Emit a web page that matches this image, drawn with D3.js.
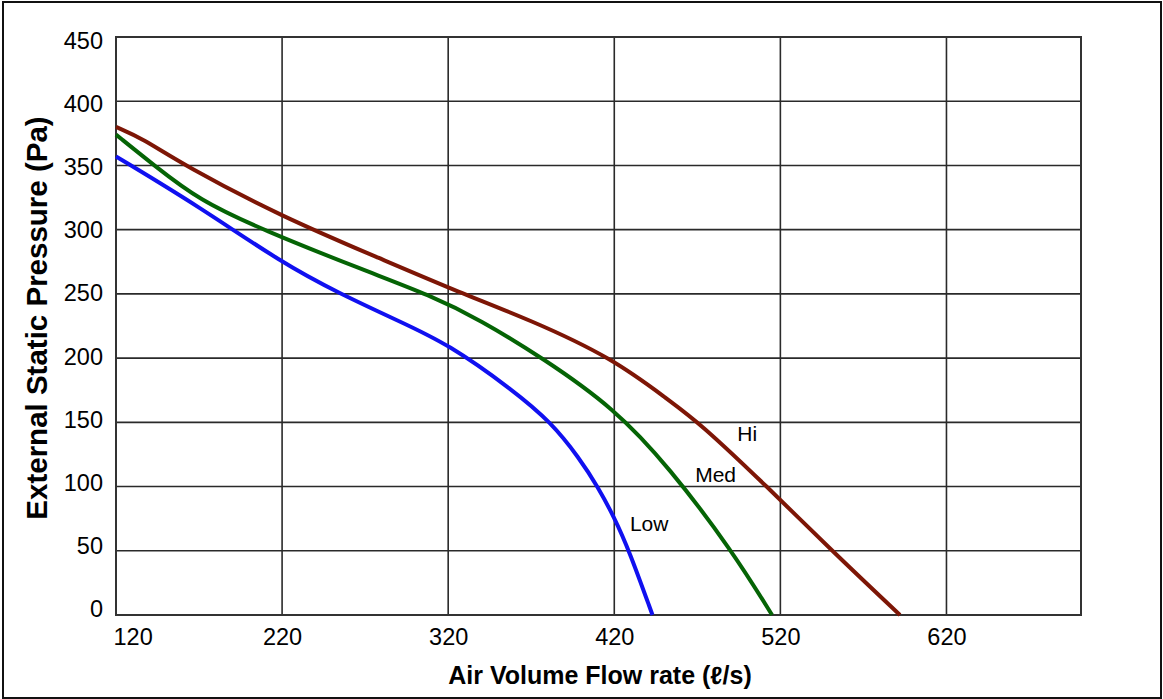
<!DOCTYPE html>
<html>
<head>
<meta charset="utf-8">
<script src="https://cdn.jsdelivr.net/npm/d3@7"></script>
<style>
  body { margin: 0; background: white; }
  svg { display: block; font-family: "Liberation Sans", Arial, sans-serif; }
</style>
</head>
<body>
<div id="grafico"></div>
<script>
// valores (caudal l/s, presion Pa)
var caudal_hi  = [120, 136, 161, 220, 280, 327, 369, 419, 453, 471, 512, 551, 592];
var presion_hi = [380, 371, 350, 310, 277, 251, 230, 200, 167, 150, 100, 50, 0];

var caudal_med  = [120, 143, 170, 208, 270, 309, 339, 377, 420, 453, 491, 515];
var presion_med = [374, 350, 323, 300, 268, 249, 230, 200, 161, 115, 50, 0];

var caudal_low  = [120, 170, 220, 255, 290, 320, 359, 382, 399, 410, 420, 429, 443];
var presion_low = [357, 318, 274, 250, 229, 211, 175, 150, 122, 100, 76, 50, 0];

var nombres = ["Hi", "Med", "Low"];
var etiqueta_x = [500, 481, 441];   // donde va el nombre de cada curva
var etiqueta_y = [140, 108, 70];

var ticks_x = [120, 220, 320, 420, 520, 620];
var ticks_y = [0, 50, 100, 150, 200, 250, 300, 350, 400, 450];

var W = 1163, H = 699;
var margin = {top: 37, right: 82, bottom: 84, left: 116};
var width = W - margin.left - margin.right;
var height = H - margin.top - margin.bottom;

var svg = d3.select("#grafico").append("svg")
  .attr("width", W)
  .attr("height", H);

// marco exterior
svg.append("rect")
  .attr("x", 3).attr("y", 2)
  .attr("width", W - 5).attr("height", H - 3)
  .attr("fill", "white")
  .attr("stroke", "#111")
  .attr("stroke-width", 2);

var g = svg.append("g")
  .attr("transform", "translate(" + margin.left + "," + margin.top + ")");

var x = d3.scaleLinear().domain([120, 701]).range([0, width]);
var y = d3.scaleLinear().domain([0, 450]).range([height, 0]);
// las etiquetas del eje Y no caen justo sobre la rejilla en el original
var yLab = d3.scaleLinear().domain([0, 450]).range([height - 6, 4]);

// rejilla
g.selectAll(".grid-v").data(ticks_x).enter().append("line")
  .attr("class", "grid-v")
  .attr("x1", d => x(d)).attr("x2", d => x(d))
  .attr("y1", 0).attr("y2", height)
  .attr("stroke", "#2a2a2a").attr("stroke-width", 1.6);

g.selectAll(".grid-h").data(ticks_y).enter().append("line")
  .attr("class", "grid-h")
  .attr("x1", 0).attr("x2", width)
  .attr("y1", d => y(d)).attr("y2", d => y(d))
  .attr("stroke", "#2a2a2a").attr("stroke-width", 1.6);

g.append("rect")
  .attr("width", width).attr("height", height)
  .attr("fill", "none")
  .attr("stroke", "#333").attr("stroke-width", 2);

// ejes (solo etiquetas)
var xAxis = d3.axisBottom(x).tickValues(ticks_x).tickSize(0).tickPadding(13);
var xAxisG = g.append("g")
  .attr("transform", "translate(0," + height + ")")
  .call(xAxis);
xAxisG.select(".domain").remove();
xAxisG.selectAll("text")
  .style("font-size", "23.5px")
  .style("font-family", "Liberation Sans, Arial, sans-serif")
  .attr("fill", "#000")
  .attr("text-anchor", (d, i) => i === 0 ? "start" : "middle")
  .attr("dx", (d, i) => i === 0 ? "-3" : "0");

var yAxis = d3.axisLeft(yLab).tickValues(ticks_y).tickSize(0).tickPadding(13);
var yAxisG = g.append("g").call(yAxis);
yAxisG.select(".domain").remove();
yAxisG.selectAll("text")
  .style("font-size", "23.5px")
  .style("font-family", "Liberation Sans, Arial, sans-serif")
  .attr("fill", "#000");

// titulos de ejes
svg.append("text")
  .attr("x", 600)
  .attr("y", 684)
  .attr("text-anchor", "middle")
  .style("font-size", "25px")
  .style("font-weight", "bold")
  .text("Air Volume Flow rate (ℓ/s)");

svg.append("text")
  .attr("transform", "translate(36,318) rotate(-90)")
  .attr("text-anchor", "middle")
  .attr("dominant-baseline", "central")
  .style("font-size", "29.5px")
  .style("font-weight", "bold")
  .text("External Static Pressure (Pa)");

// curvas
var series = [
  {nombre: nombres[0], xs: caudal_hi, ys: presion_hi, color: "#7d1606"},
  {nombre: nombres[1], xs: caudal_med, ys: presion_med, color: "#056405"},
  {nombre: nombres[2], xs: caudal_low, ys: presion_low, color: "#1010f0"}
];

// curveBasis suaviza las pequeñas irregularidades de la lectura
var linea = d3.line()
  .x(d => x(d[0]))
  .y(d => y(d[1]))
  .curve(d3.curveBasis);

series.forEach(function(s, i) {
  var puntos = s.xs.map((v, j) => [v, s.ys[j]]);
  g.append("path")
    .datum(puntos)
    .attr("d", linea)
    .attr("fill", "none")
    .attr("stroke", s.color)
    .attr("stroke-width", 4);

  g.append("text")
    .attr("x", x(etiqueta_x[i]))
    .attr("y", y(etiqueta_y[i]))
    .attr("text-anchor", "middle")
    .attr("dominant-baseline", "middle")
    .style("font-size", "21px")
    .text(s.nombre);
});
</script>
</body>
</html>
